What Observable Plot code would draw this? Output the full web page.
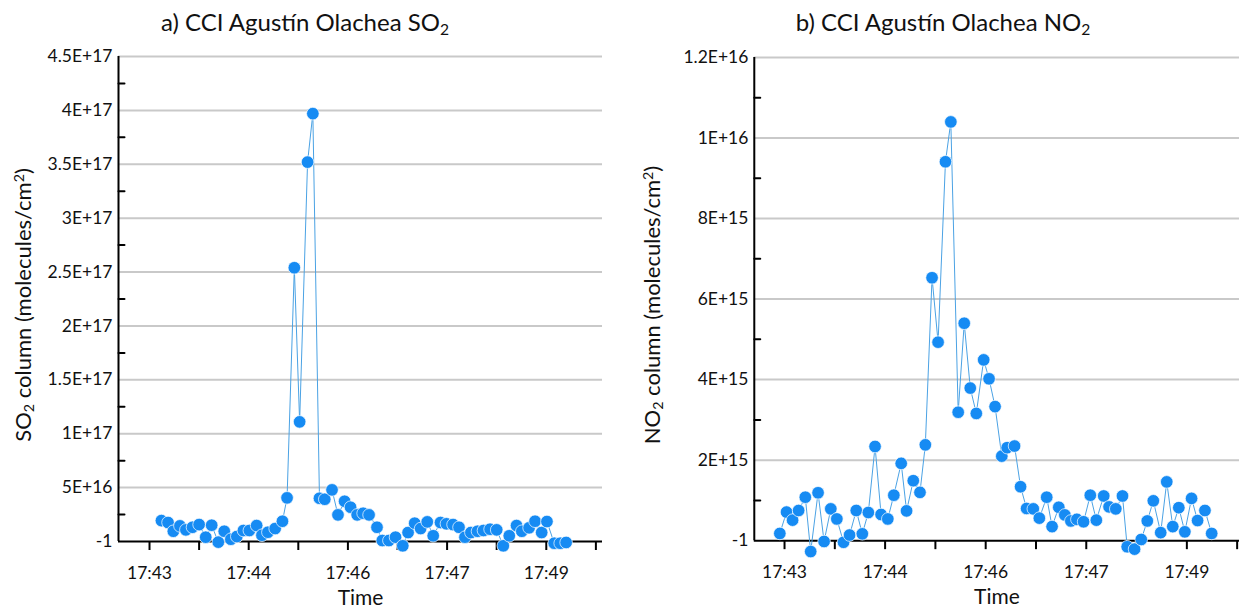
<!DOCTYPE html>
<html>
<head>
<meta charset="utf-8">
<script src="https://cdn.jsdelivr.net/npm/d3@7"></script>
<script src="https://cdn.jsdelivr.net/npm/@observablehq/plot@0.6"></script>
<style>
  html, body { margin: 0; padding: 0; background: #fff; }
  #wrap { position: relative; width: 1239px; height: 609px; overflow: hidden; font-family: Lato, "Open Sans", sans-serif; color: #111; }
  .panel { position: absolute; top: 46px; }
  .title { position: absolute; top: 6px; width: 420px; text-align: center; font-size: 24px; line-height: 32px; white-space: nowrap; }
  .ylab { position: absolute; font-size: 22px; white-space: nowrap; transform: translate(-50%, -50%) rotate(-90deg); }
  sub { font-size: 0.65em; vertical-align: -0.25em; line-height: 0; }
  sup { font-size: 0.65em; vertical-align: 0.45em; line-height: 0; }
</style>
</head>
<body>
<div id="wrap">
  <div class="title" style="left:95px">a) CCI Agustín Olachea SO<sub>2</sub></div>
  <div class="title" style="left:733px">b) CCI Agustín Olachea NO<sub>2</sub></div>
  <div class="ylab" style="left:22px; top:305px">SO<sub>2</sub> column (molecules/cm<sup>2</sup>)</div>
  <div class="ylab" style="left:651px; top:305px">NO<sub>2</sub> column (molecules/cm<sup>2</sup>)</div>
  <div class="panel" id="left" style="left:0px"></div>
  <div class="panel" id="right" style="left:620px"></div>
</div>
<script>
// ---- data: time in minutes after 17:00 ----
const so2Time = [43.18, 43.28, 43.36, 43.46, 43.55, 43.65, 43.75, 43.85, 43.94, 44.04,
  44.13, 44.23, 44.32, 44.42, 44.51, 44.62, 44.70, 44.79, 44.90, 45.01,
  45.08, 45.19, 45.27, 45.39, 45.47, 45.57, 45.65, 45.76, 45.85, 45.95,
  46.04, 46.14, 46.23, 46.32, 46.44, 46.52, 46.62, 46.72, 46.83, 46.91,
  47.01, 47.10, 47.20, 47.29, 47.40, 47.49, 47.59, 47.68, 47.77, 47.86,
  47.96, 48.05, 48.15, 48.25, 48.35, 48.44, 48.55, 48.63, 48.74, 48.83,
  48.93, 49.01, 49.12, 49.21, 49.30];
// SO2 column, units of 1E+16 molecules/cm2
const so2Value = [1.94, 1.76, 0.95, 1.45, 1.08, 1.32, 1.57, 0.40, 1.51, -0.06,
  0.95, 0.21, 0.46, 1.02, 1.02, 1.48, 0.58, 0.86, 1.20, 1.88,
  4.05, 25.4, 11.1, 35.2, 39.7, 4.01, 3.92, 4.79, 2.47, 3.73,
  3.18, 2.47, 2.62, 2.47, 1.32, 0.09, 0.09, 0.40, -0.40, 0.83,
  1.70, 1.20, 1.82, 0.53, 1.76, 1.64, 1.57, 1.32, 0.40, 0.83,
  0.95, 1.02, 1.14, 1.08, -0.40, 0.53, 1.48, 0.95, 1.27, 1.88,
  0.83, 1.85, -0.16, -0.16, -0.09];

const no2Time = [42.93, 43.03, 43.12, 43.21, 43.31, 43.39, 43.50, 43.59, 43.69, 43.78,
  43.88, 43.97, 44.07, 44.16, 44.25, 44.35, 44.44, 44.54, 44.63, 44.74,
  44.82, 44.92, 45.02, 45.10, 45.20, 45.29, 45.40, 45.48, 45.59, 45.68,
  45.77, 45.86, 45.97, 46.05, 46.14, 46.24, 46.32, 46.43, 46.52, 46.61,
  46.71, 46.80, 46.91, 46.99, 47.09, 47.18, 47.27, 47.36, 47.46, 47.56,
  47.65, 47.76, 47.84, 47.94, 48.04, 48.11, 48.22, 48.32, 48.41, 48.50,
  48.61, 48.70, 48.79, 48.88, 48.97, 49.07, 49.16, 49.27, 49.37];
// NO2 column, units of 1E+15 molecules/cm2
const no2Value = [0.18, 0.71, 0.51, 0.75, 1.08, -0.27, 1.19, -0.02, 0.79, 0.54,
  -0.04, 0.14, 0.75, 0.17, 0.70, 2.34, 0.65, 0.54, 1.13, 1.92,
  0.74, 1.49, 1.20, 2.38, 6.53, 4.93, 9.41, 10.40, 3.19, 5.40,
  3.79, 3.16, 4.49, 4.02, 3.33, 2.10, 2.31, 2.35, 1.34, 0.80,
  0.79, 0.56, 1.08, 0.35, 0.83, 0.64, 0.49, 0.53, 0.47, 1.13,
  0.51, 1.11, 0.84, 0.79, 1.11, -0.15, -0.21, 0.03, 0.49, 0.99,
  0.20, 1.46, 0.35, 0.82, 0.22, 1.05, 0.50, 0.75, 0.18];

// ---- ticks ----
const xTicks = [43, 43.75, 44.5, 45.25, 46, 46.75, 47.5, 48.25, 49, 49.75];
const xTickLabels = ["17:43", "", "17:44", "", "17:46", "", "17:47", "", "17:49", ""];
const so2Ticks = [0, 5, 10, 15, 20, 25, 30, 35, 40, 45];
const so2TickLabels = ["-1", "5E+16", "1E+17", "1.5E+17", "2E+17", "2.5E+17", "3E+17", "3.5E+17", "4E+17", "4.5E+17"];
const so2Minor = [2.5, 7.5, 12.5, 17.5, 22.5, 27.5, 32.5, 37.5, 42.5];
const no2Ticks = [0, 2, 4, 6, 8, 10, 12];
const no2TickLabels = ["-1", "2E+15", "4E+15", "6E+15", "8E+15", "1E+16", "1.2E+16"];
const no2Minor = [1, 3, 5, 7, 9, 11];

const dotColor = "#168bf3";
const lineColor = "#4aa2e4";

// plain straight tick for minor marks
const lineShape = {draw(context, l) { context.moveTo(0, 0); context.lineTo(0, -l); }};

function panel({times, values, yTicks, yLabels, yMinor, xDomain, marginLeft, marginRight, marginTop}) {
  const data = times.map((t, i) => ({t, v: values[i]}));
  const yFmt = new Map(yTicks.map((d, i) => [d, yLabels[i]]));
  const xFmt = new Map(xTicks.map((d, i) => [d, xTickLabels[i]]));
  return Plot.plot({
    width: 620,
    height: 563,
    marginTop, marginBottom: 68, marginLeft, marginRight,
    style: {fontFamily: "Lato, 'Open Sans', sans-serif", fontSize: "17.5px", color: "#111", overflow: "visible", background: "transparent"},
    x: {domain: xDomain},
    y: {domain: [0, yTicks[yTicks.length - 1]]},
    marks: [
      Plot.ruleY(yTicks.slice(1), {stroke: "#c9c9c9", strokeWidth: 2}),
      Plot.axisY({ticks: yTicks, tickSize: 0, tickPadding: 6, tickFormat: d => yFmt.get(d), label: null, fontSize: 17.5}),
      Plot.vector(yMinor, {x: () => xDomain[0], y: d => d, length: 6, rotate: 90, anchor: "start", shape: lineShape, stroke: "#000", strokeWidth: 2}),
      Plot.axisX({ticks: xTicks, tickSize: 9, tickPadding: 16, strokeWidth: 2, stroke: "#000", tickFormat: d => xFmt.get(d),
        label: "Time", labelAnchor: "center", labelArrow: "none", labelOffset: 63, fontSize: 17.5}),
      Plot.ruleY([0], {stroke: "#000", strokeWidth: 2}),
      Plot.ruleX([xDomain[0]], {stroke: "#000", strokeWidth: 2}),
      Plot.line(data, {x: "t", y: "v", stroke: lineColor, strokeWidth: 1}),
      Plot.dot(data, {x: "t", y: "v", r: 6.3, fill: dotColor, stroke: "#fff", strokeWidth: 0.7})
    ]
  });
}

document.getElementById("left").append(panel({
  times: so2Time, values: so2Value, yTicks: so2Ticks, yLabels: so2TickLabels, yMinor: so2Minor,
  xDomain: [42.531, 49.85], marginLeft: 118, marginRight: 18, marginTop: 10
}));
document.getElementById("right").append(panel({
  times: no2Time, values: no2Value, yTicks: no2Ticks, yLabels: no2TickLabels, yMinor: no2Minor,
  xDomain: [42.549, 49.785], marginLeft: 134, marginRight: 0, marginTop: 11
}));

// "Time" label font size
document.querySelectorAll("g[aria-label='x-axis label'] text").forEach(t => t.setAttribute("font-size", "21"));
</script>
</body>
</html>
